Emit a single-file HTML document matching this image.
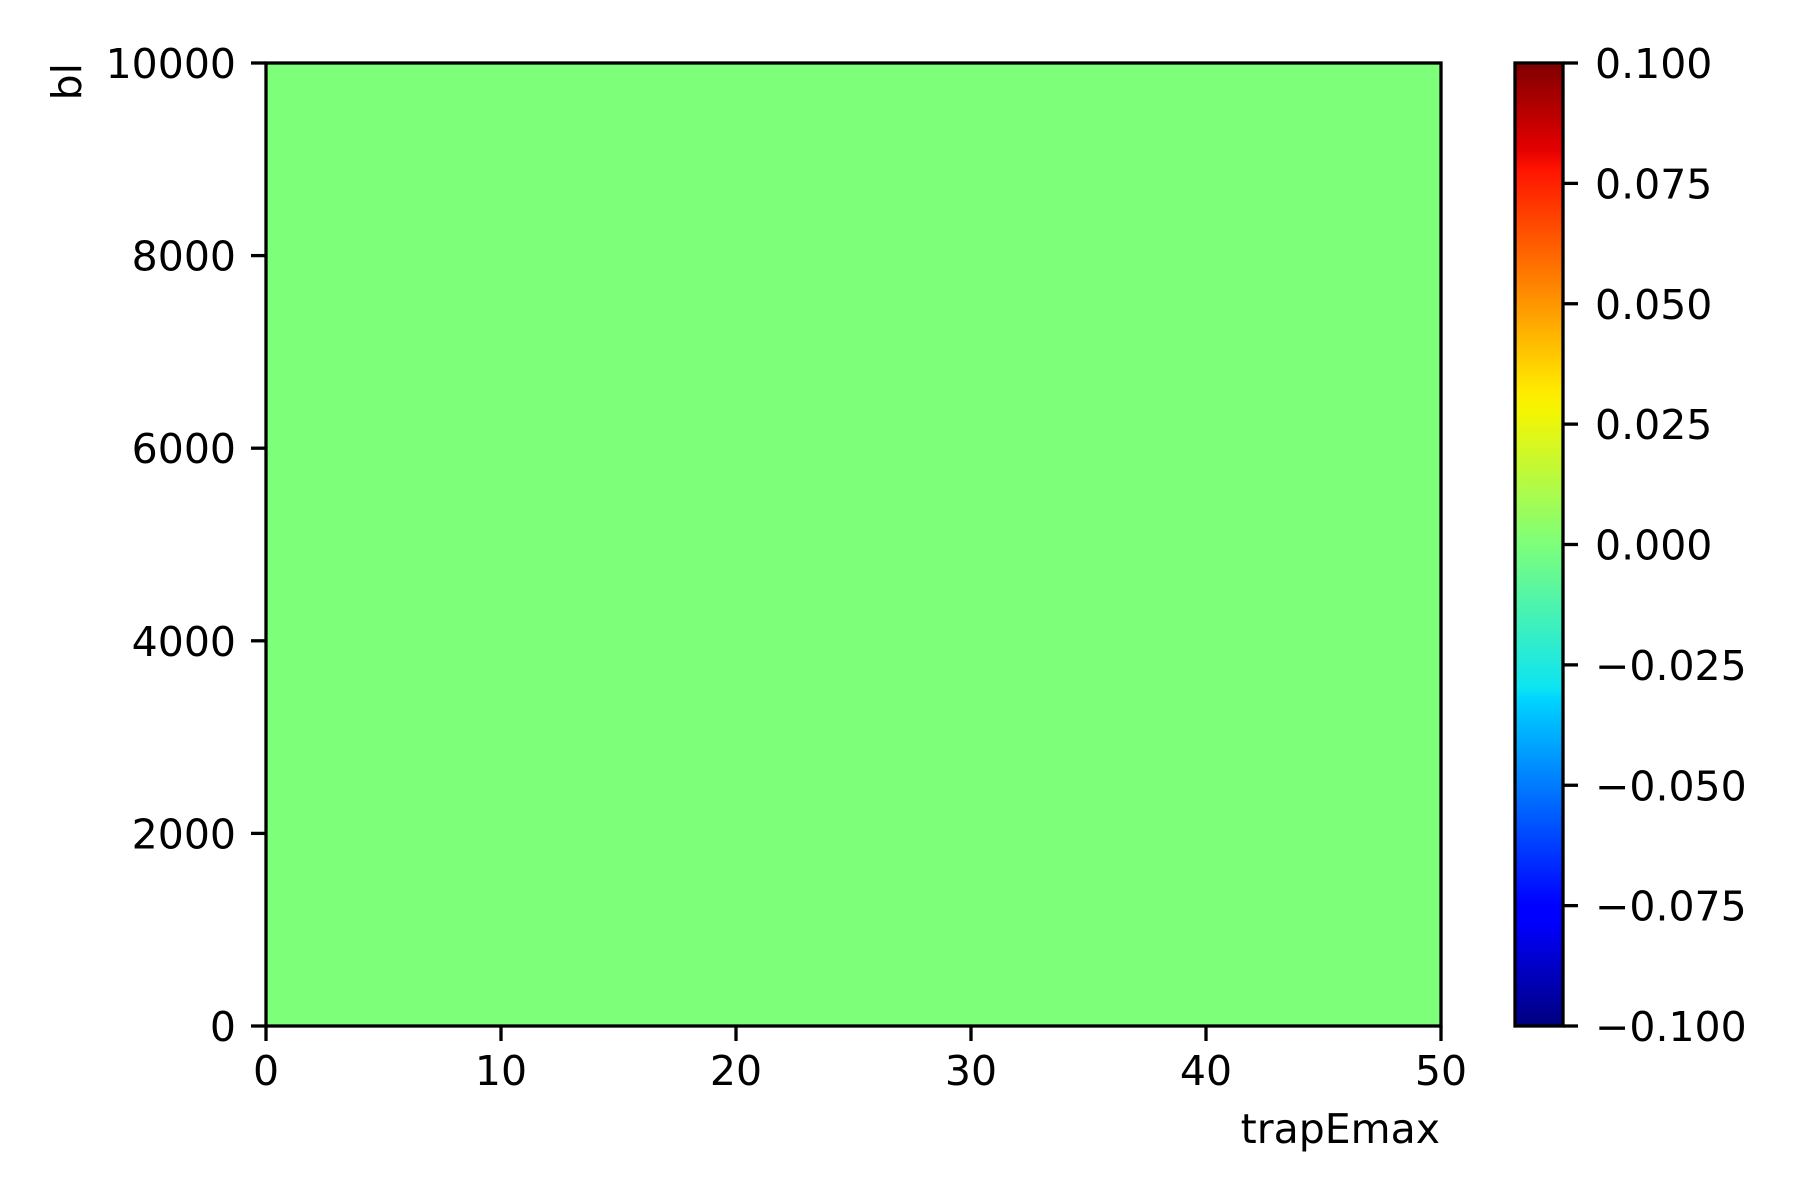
<!DOCTYPE html>
<html><head><meta charset="utf-8"><style>
html,body{margin:0;padding:0;background:#fff;}
svg{display:block;font-family:"DejaVu Sans","Liberation Sans",sans-serif;}
</style></head><body>
<svg id="chart" width="1800" height="1200" viewBox="0 0 1800 1200" xmlns="http://www.w3.org/2000/svg">
<defs>
<linearGradient id="jet" x1="0" y1="1" x2="0" y2="0">
<stop offset="0" stop-color="#00007f"/>
<stop offset="0.11" stop-color="#0000ff"/>
<stop offset="0.125" stop-color="#0000ff"/>
<stop offset="0.34" stop-color="#00d4ff"/>
<stop offset="0.35" stop-color="#0ce4f3"/>
<stop offset="0.5" stop-color="#7dff7a"/>
<stop offset="0.64" stop-color="#f6f500"/>
<stop offset="0.66" stop-color="#ffea00"/>
<stop offset="0.89" stop-color="#ff1300"/>
<stop offset="0.91" stop-color="#e40000"/>
<stop offset="1" stop-color="#7f0000"/>
</linearGradient>
</defs>
<g id="plot"></g>
</svg>
<script>
const xTicks = [0, 10, 20, 30, 40, 50];
const yTicks = [0, 2000, 4000, 6000, 8000, 10000];
const cTicks = [-0.1, -0.075, -0.05, -0.025, 0, 0.025, 0.05, 0.075, 0.1];
const cTickLabels = ["\u22120.100","\u22120.075","\u22120.050","\u22120.025","0.000","0.025","0.050","0.075","0.100"];
const cells = [[0]];
const xDomain = [0, 50];
const yDomain = [0, 10000];
const cDomain = [-0.1, 0.1];

const L = 266, R = 1441, T = 63, B = 1026;
const CL = 1515, CR = 1563;
const FS = 41;
const xs = v => L + (v - xDomain[0]) / (xDomain[1] - xDomain[0]) * (R - L);
const ys = v => B - (v - yDomain[0]) / (yDomain[1] - yDomain[0]) * (B - T);
const cs = v => B - (v - cDomain[0]) / (cDomain[1] - cDomain[0]) * (B - T);
const NS = "http://www.w3.org/2000/svg";
const g = document.getElementById('plot');
function mk(tag, attrs, text) {
  const e = document.createElementNS(NS, tag);
  for (const k in attrs) e.setAttribute(k, attrs[k]);
  if (text !== undefined) e.textContent = text;
  g.appendChild(e);
  return e;
}
function jet(t) {
  const stops = [[0,[0,0,127]],[0.11,[0,0,255]],[0.125,[0,0,255]],[0.34,[0,212,255]],[0.35,[12,228,243]],[0.5,[125,255,122]],[0.64,[246,245,0]],[0.66,[255,234,0]],[0.89,[255,19,0]],[0.91,[228,0,0]],[1,[127,0,0]]];
  for (let i = 1; i < stops.length; i++) {
    if (t <= stops[i][0]) {
      const a = stops[i-1], b = stops[i], f = (t - a[0]) / (b[0] - a[0] || 1);
      const c = a[1].map((v, j) => Math.round(v + (b[1][j] - v) * f));
      return `rgb(${c[0]},${c[1]},${c[2]})`;
    }
  }
  return 'rgb(127,0,0)';
}
const nr = cells.length, nc = cells[0].length;
for (let r = 0; r < nr; r++) for (let c = 0; c < nc; c++) {
  const x0 = xDomain[0] + (xDomain[1]-xDomain[0]) * c / nc, x1 = xDomain[0] + (xDomain[1]-xDomain[0]) * (c+1) / nc;
  const y0 = yDomain[0] + (yDomain[1]-yDomain[0]) * r / nr, y1 = yDomain[0] + (yDomain[1]-yDomain[0]) * (r+1) / nr;
  const v = cells[r][c];
  const e = mk('rect', {x: xs(x0), y: ys(y1), width: xs(x1)-xs(x0), height: ys(y0)-ys(y1), fill: jet((v - cDomain[0])/(cDomain[1]-cDomain[0]))});
  
  
}
const frame = mk('rect', {x: L, y: T, width: R-L, height: B-T, fill: 'none', stroke: '#000', 'stroke-width': 3.3});


xTicks.forEach(v => {
  const t = mk('line', {x1: xs(v), x2: xs(v), y1: B, y2: B+15, stroke: '#000', 'stroke-width': 3.3});
  
  
  const l = mk('text', {x: xs(v), y: 1085, 'font-size': FS, 'text-anchor': 'middle'}, String(v));
  
  
});
yTicks.forEach(v => {
  const t = mk('line', {x1: L-15, x2: L, y1: ys(v), y2: ys(v), stroke: '#000', 'stroke-width': 3.3});
  
  
  const l = mk('text', {x: 236, y: ys(v)+15, 'font-size': FS, 'text-anchor': 'end'}, String(v));
  
  
});
const xl = mk('text', {x: 1440, y: 1143, 'font-size': FS, 'text-anchor': 'end'}, 'trapEmax');


const yl = mk('text', {x: 0, y: 0, 'font-size': FS, 'text-anchor': 'end', transform: 'translate(81,63) rotate(-90)'}, 'bl');


const cb = mk('rect', {x: CL, y: T, width: CR-CL, height: B-T, fill: 'url(#jet)', stroke: '#000', 'stroke-width': 3.3});


cTicks.forEach((v, i) => {
  const t = mk('line', {x1: CR, x2: CR+15, y1: cs(v), y2: cs(v), stroke: '#000', 'stroke-width': 3.3});
  
  
  const l = mk('text', {x: 1595, y: cs(v)+15, 'font-size': FS}, cTickLabels[i]);
  
  
});
</script>
</body></html>
